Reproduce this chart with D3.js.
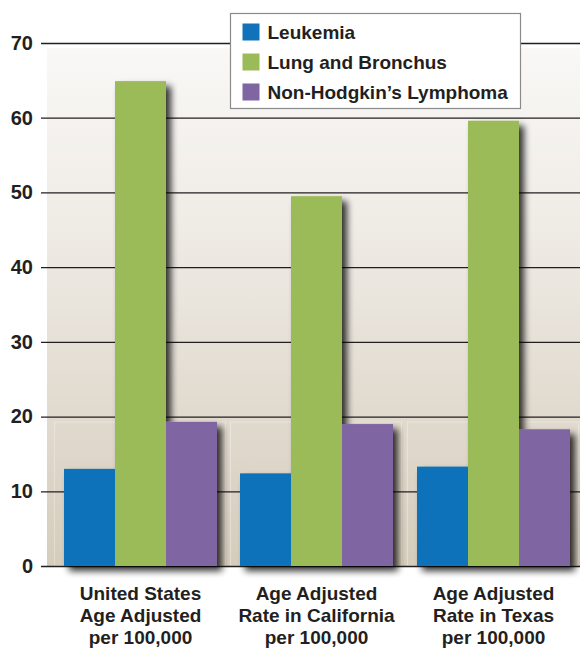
<!DOCTYPE html>
<html>
<head>
<meta charset="utf-8">
<script src="https://cdn.jsdelivr.net/npm/d3@7"></script>
<style>
  html, body { margin: 0; padding: 0; background: #ffffff; }
  svg { display: block; font-family: "Liberation Sans", Arial, Helvetica, sans-serif; }
</style>
</head>
<body>
<svg id="chart" width="580" height="650"></svg>
<script>
// Cancer incidence, age adjusted rates per 100,000
const groups = ["us", "ca", "tx"];
const groupLabels = [
  ["United States", "Age Adjusted", "per 100,000"],
  ["Age Adjusted", "Rate in California", "per 100,000"],
  ["Age Adjusted", "Rate in Texas", "per 100,000"]
];
const seriesNames = ["Leukemia", "Lung and Bronchus", "Non-Hodgkin\u2019s Lymphoma"];
const seriesColors = ["#1172b9", "#9bbb59", "#7f66a3"];
const leukemia = [13.0, 12.4, 13.3];
const lungBronchus = [64.9, 49.5, 59.6];
const nonHodgkin = [19.3, 19.0, 18.3];
const yTicks = [0, 10, 20, 30, 40, 50, 60, 70];

const seriesValues = [leukemia, lungBronchus, nonHodgkin];

const svg = d3.select("#chart");
const plot = { left: 47, right: 580, top: 43, bottom: 566 };

const y = d3.scaleLinear().domain([0, 70]).range([plot.bottom, plot.top]);
const groupWidth = 153;
const x1 = d3.scaleBand().domain(d3.range(3)).range([0, groupWidth]).padding(0);
const groupStarts = [64, 240, 417];
const xg = d3.scaleOrdinal().domain(groups).range(groupStarts);

const defs = svg.append("defs");
const bg = defs.append("linearGradient").attr("id", "bgGrad")
  .attr("x1", 0).attr("y1", 0).attr("x2", 0).attr("y2", 1);
bg.append("stop").attr("offset", "0%").attr("stop-color", "#f9f8f6");
bg.append("stop").attr("offset", "35%").attr("stop-color", "#efebe5");
bg.append("stop").attr("offset", "100%").attr("stop-color", "#d5ccbc");

const shadow = defs.append("filter").attr("id", "barShadow")
  .attr("x", "-20%").attr("y", "-10%").attr("width", "160%").attr("height", "130%");
shadow.append("feGaussianBlur").attr("in", "SourceAlpha").attr("stdDeviation", 3.5).attr("result", "blur");
shadow.append("feOffset").attr("in", "blur").attr("dx", 5).attr("dy", 5).attr("result", "off");
shadow.append("feComponentTransfer").attr("in", "off").attr("result", "soft")
  .append("feFuncA").attr("type", "linear").attr("slope", 0.8);
const merge = shadow.append("feMerge");
merge.append("feMergeNode").attr("in", "soft");
merge.append("feMergeNode").attr("in", "SourceGraphic");

// background panel
svg.append("rect")
  .attr("x", plot.left).attr("y", y(69.3))
  .attr("width", plot.right - plot.left).attr("height", plot.bottom - y(69.3))
  .attr("fill", "url(#bgGrad)");

// faint panel frames behind each group
svg.append("g").selectAll("rect")
  .data(groups)
  .join("rect")
  .attr("x", d => xg(d) - 9.5)
  .attr("y", y(20) + 5.5)
  .attr("width", groupWidth + 18)
  .attr("height", y(0) - y(20) - 5.5)
  .attr("fill", "none")
  .attr("stroke", "#ffffff").attr("stroke-opacity", 0.3).attr("stroke-width", 1);

// gridlines and tick labels
const yAxis = d3.axisLeft(y).tickValues(yTicks).tickSize(0).tickPadding(8).tickFormat(d3.format("d"));
const axisG = svg.append("g").attr("transform", "translate(41,0)").call(yAxis);
axisG.select(".domain").remove();
axisG.selectAll(".tick line")
  .attr("x1", 0).attr("x2", plot.right - 41)
  .attr("stroke", "#231f20").attr("stroke-width", 1.3);
axisG.selectAll(".tick text")
  .attr("x", -8)
  .attr("fill", "#231f20")
  .style("font-size", "20px").style("font-weight", "bold");

// bars
const barLayer = svg.append("g");
groups.forEach((g, gi) => {
  const gEl = barLayer.append("g")
    .attr("transform", `translate(${xg(g)},0)`)
    .attr("filter", "url(#barShadow)");
  gEl.selectAll("rect")
    .data(seriesValues.map((vals, si) => ({ si, v: vals[gi] })))
    .join("rect")
    .attr("x", d => x1(d.si))
    .attr("width", x1.bandwidth())
    .attr("y", d => y(d.v))
    .attr("height", d => y(0) - y(d.v))
    .attr("fill", d => seriesColors[d.si]);
});

// category labels
const labelG = svg.append("g");
groups.forEach((g, gi) => {
  const cx = xg(g) + groupWidth / 2;
  const t = labelG.append("text")
    .attr("x", cx).attr("y", 600)
    .attr("text-anchor", "middle")
    .attr("fill", "#231f20")
    .style("font-size", "19px").style("font-weight", "bold");
  groupLabels[gi].forEach((line, li) => {
    t.append("tspan").attr("x", cx).attr("dy", li === 0 ? 0 : 22).text(line);
  });
});

// legend
const legend = svg.append("g").attr("transform", "translate(230.5,13.5)");
legend.append("rect")
  .attr("width", 290).attr("height", 95)
  .attr("fill", "#ffffff").attr("stroke", "#8a8a8a").attr("stroke-width", 1.2);
seriesNames.forEach((name, i) => {
  const row = legend.append("g").attr("transform", `translate(12,${10 + i * 30})`);
  row.append("rect").attr("width", 17).attr("height", 17).attr("fill", seriesColors[i]);
  row.append("text")
    .attr("x", 25).attr("y", 15)
    .attr("fill", "#231f20")
    .style("font-size", "19px").style("font-weight", "bold")
    .text(name);
});
</script>
</body>
</html>
